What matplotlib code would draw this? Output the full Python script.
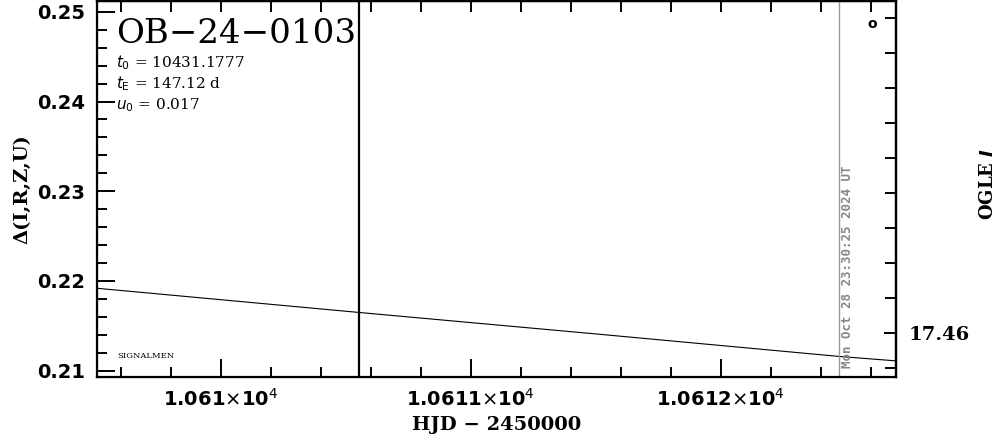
import numpy as np
import matplotlib
matplotlib.use("Agg")
import matplotlib.pyplot as plt
from matplotlib.ticker import FixedLocator, MultipleLocator, FuncFormatter

# ---- data ----
model_hjd = [10609.50, 10610.55, 10611.50, 10612.47, 10612.70]
model_delta = [0.2192, 0.2165, 0.2141, 0.2116, 0.2111]
now_hjd = 10612.472
now_label = "Mon Oct 28 23:30:25 2024 UT"
marker_hjd = 10610.551
event_name = "OB\u221224\u22120103"
param_lines = [r"$t_{\rm 0}$ = 10431.1777", r"$t_{\rm E}$ = 147.12 d", r"$u_{\rm 0}$ = 0.017"]
x_major = [10610, 10611, 10612]
x_labels = [r"1.061$\times$10$^4$", r"1.0611$\times$10$^4$", r"1.0612$\times$10$^4$"]
y_major = [0.21, 0.22, 0.23, 0.24, 0.25]
mag_major = [17.46]

xlim = (10609.503, 10612.701)
ylim = (0.2093, 0.2512)
maglim = (17.4726, 17.3651)

fig = plt.figure(figsize=(9.99, 4.34), dpi=100)
ax = fig.add_axes([96.5/999, 1 - 377/434, (896 - 96.5)/999, 376/434])

ax.plot(model_hjd, model_delta, color="black", lw=0.8)
ax.axvline(marker_hjd, color="black", lw=1.6)
ax.axvline(now_hjd, color="#999999", lw=1.0)

ax.set_xlim(*xlim)
ax.set_ylim(*ylim)

for s in ax.spines.values():
    s.set_linewidth(1.6)

ax.xaxis.set_major_locator(FixedLocator(x_major))
ax.xaxis.set_major_formatter(FuncFormatter(lambda v, p: x_labels[x_major.index(round(v))] if round(v) in x_major else ""))
ax.xaxis.set_minor_locator(MultipleLocator(0.2))
ax.yaxis.set_major_locator(FixedLocator(y_major))
ax.yaxis.set_major_formatter(FuncFormatter(lambda v, p: f"{v:.2f}"))
ax.yaxis.set_minor_locator(MultipleLocator(0.002))

ax.tick_params(which="both", direction="in", width=1.4, right=False, top=False)
ax.tick_params(which="major", length=13)
ax.tick_params(which="minor", length=7)
ax.tick_params(axis="x", which="major", labelsize=14, pad=8)
ax.tick_params(axis="y", which="major", labelsize=14, pad=8)
for lab in ax.get_xticklabels() + ax.get_yticklabels():
    lab.set_fontweight("bold")

sec = ax.secondary_xaxis("top")
sec.xaxis.set_major_locator(MultipleLocator(0.2))
sec.tick_params(direction="in", length=8, width=1.4, labeltop=False)
sec.spines["top"].set_linewidth(1.6)

ax2 = ax.twinx()
ax2.set_ylim(*maglim)
ax2.yaxis.set_major_locator(FixedLocator(mag_major))
ax2.yaxis.set_major_formatter(FuncFormatter(lambda v, p: f"{v:.2f}"))
ax2.yaxis.set_minor_locator(MultipleLocator(0.01))
ax2.tick_params(which="both", direction="in", width=1.4)
ax2.tick_params(which="major", length=9, labelsize=14, pad=9)
ax2.tick_params(which="minor", length=8)
for lab in ax2.get_yticklabels():
    lab.set_fontfamily("DejaVu Serif")
    lab.set_fontweight("bold")
ax2.spines["right"].set_linewidth(1.6)

ax.set_xlabel("HJD \u2212 2450000", fontsize=14, fontweight="bold", family="DejaVu Serif", labelpad=4)
ax.set_ylabel("\u0394(I,R,Z,U)", fontsize=14, fontweight="bold", family="DejaVu Serif", labelpad=4)
fig.text(988/999, 1 - 184/434, r"OGLE $\mathbfit{I}$", rotation=90, fontsize=13, fontweight="bold",
         family="DejaVu Serif", ha="center", va="center")

ax.text(0.025, 0.955, event_name, transform=ax.transAxes, fontsize=24.5, family="DejaVu Serif",
        va="top", ha="left")
for i, t in enumerate(param_lines):
    ax.text(0.025, 0.835 - i * 0.056, t, transform=ax.transAxes, fontsize=11,
            family="DejaVu Serif", va="center", ha="left")
ax.text(0.026, 0.057, "SIGNALMEN", transform=ax.transAxes, fontsize=6,
        family="DejaVu Serif", va="center", ha="left")
ax.text(0.97, 0.94, "o", transform=ax.transAxes, fontsize=10, fontweight="bold",
        va="center", ha="center")
ax.text(now_hjd + 0.035, 0.2103, now_label, rotation=90, color="#888888", fontsize=9,
        fontweight="bold", family="DejaVu Sans Mono", va="bottom", ha="center")

fig.savefig("out.png", dpi=100)
